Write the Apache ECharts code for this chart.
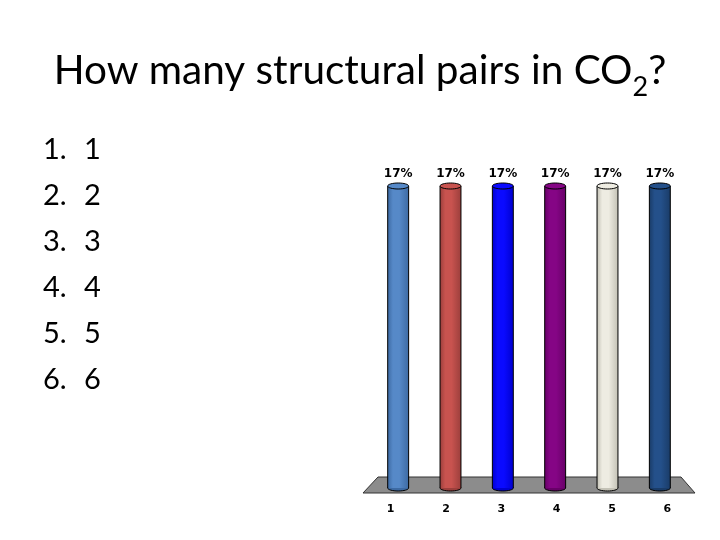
<!DOCTYPE html>
<html>
<head>
<meta charset="utf-8">
<script src="https://cdn.jsdelivr.net/npm/echarts@6/dist/echarts.min.js"></script>
<style>html,body{margin:0;padding:0;background:#fff;}#main{width:720px;height:540px;}</style>
</head>
<body>
<div id="main"></div>
<script>
var categories = ['1', '2', '3', '4', '5', '6'];
var values = [17, 17, 17, 17, 17, 17];
var labelTexts = ['17%', '17%', '17%', '17%', '17%', '17%'];
var barColors = [
  ['#5689c8', '#3d6aa3'],
  ['#c8534f', '#9c3f3c'],
  ['#0a0aff', '#0000d0'],
  ['#850585', '#680068'],
  ['#eeece2', '#c4c2b6'],
  ['#24508a', '#1a3c68']
];
var listNumbers = ['1.', '2.', '3.', '4.', '5.', '6.'];
var listAnswers = ['1', '2', '3', '4', '5', '6'];

var chart = echarts.init(document.getElementById('main'));

var listGraphics = [];
for (var i = 0; i < listNumbers.length; i++) {
  listGraphics.push({
    type: 'text', left: 43, top: 135 + i * 46,
    style: { text: listNumbers[i], font: '29px Lato', fill: '#000' }
  });
  listGraphics.push({
    type: 'text', left: 84, top: 135 + i * 46,
    style: { text: listAnswers[i], font: '29px Lato', fill: '#000' }
  });
}

function renderCylinder(params, api) {
  var idx = params.dataIndex;
  var top = api.coord([api.value(0), api.value(1)]);
  var base = api.coord([api.value(0), 0]);
  var w = api.size([1, 0])[0] * 0.4;
  var x0 = top[0] - w / 2;
  var ry = 3;
  var c = barColors[idx % barColors.length];
  var grad = new echarts.graphic.LinearGradient(0, 0, 1, 0, [
    { offset: 0, color: c[1] },
    { offset: 0.25, color: c[0] },
    { offset: 0.55, color: c[0] },
    { offset: 1, color: c[1] }
  ]);
  return {
    type: 'group',
    children: [
      { type: 'ellipse', shape: { cx: top[0], cy: base[1], rx: w / 2, ry: ry },
        style: { fill: c[1], stroke: '#000', lineWidth: 1 } },
      { type: 'rect', shape: { x: x0, y: top[1], width: w, height: base[1] - top[1] },
        style: { fill: grad, stroke: null } },
      { type: 'line', shape: { x1: x0, y1: top[1], x2: x0, y2: base[1] },
        style: { stroke: '#000', lineWidth: 1 } },
      { type: 'line', shape: { x1: x0 + w, y1: top[1], x2: x0 + w, y2: base[1] },
        style: { stroke: '#000', lineWidth: 1 } },
      { type: 'ellipse', shape: { cx: top[0], cy: top[1], rx: w / 2, ry: ry },
        style: { fill: c[0], stroke: '#000', lineWidth: 1 } },
      { type: 'text', x: top[0], y: top[1] - 12,
        style: { text: labelTexts[idx], font: 'bold 12px "DejaVu Sans"', fill: '#000',
                 align: 'center', verticalAlign: 'middle' } }
    ]
  };
}

function renderFloor(params, api) {
  var cs = params.coordSys;
  var yb = cs.y + cs.height;
  return {
    type: 'polygon',
    shape: { points: [
      [cs.x + 6, yb - 11], [cs.x + cs.width - 5, yb - 11],
      [cs.x + cs.width + 9, yb + 5], [cs.x - 9, yb + 5]
    ] },
    style: { fill: '#8c8c8c', stroke: '#333', lineWidth: 1 },
    z2: -10
  };
}

chart.setOption({
  animation: false,
  backgroundColor: '#fff',
  title: {
    left: 'center', top: 45,
    text: '{t|How many structural pairs in CO}{s|2}{t|?}',
    textStyle: {
      rich: {
        t: { fontFamily: 'Lato', fontWeight: 'normal', fontSize: 40.5, color: '#000', verticalAlign: 'bottom' },
        s: { fontFamily: 'Lato', fontWeight: 'normal', fontSize: 27, color: '#000', verticalAlign: 'bottom', padding: [0, 0, -10, 0] }
      }
    }
  },
  graphic: listGraphics,
  grid: [
    { left: 372, right: 34, top: 186, bottom: 52 },
    { left: 363, right: 25, top: 186, bottom: 43 }
  ],
  xAxis: [
    { type: 'category', data: categories, gridIndex: 0, show: false },
    { type: 'category', data: categories, gridIndex: 1,
      axisLine: { show: false }, axisTick: { show: false },
      axisLabel: { margin: 7, fontFamily: 'DejaVu Sans', fontWeight: 'bold', fontSize: 11, color: '#000' } }
  ],
  yAxis: [
    { type: 'value', min: 0, max: 17, gridIndex: 0, show: false },
    { type: 'value', min: 0, max: 17, gridIndex: 1, show: false }
  ],
  series: [
    { type: 'custom', xAxisIndex: 0, yAxisIndex: 0, data: [[0, 0]], renderItem: renderFloor, z: 1, silent: true },
    { type: 'custom', xAxisIndex: 0, yAxisIndex: 0,
      data: values.map(function (v, i) { return [i, v]; }),
      renderItem: renderCylinder, z: 2 }
  ]
});
</script>
</body>
</html>
